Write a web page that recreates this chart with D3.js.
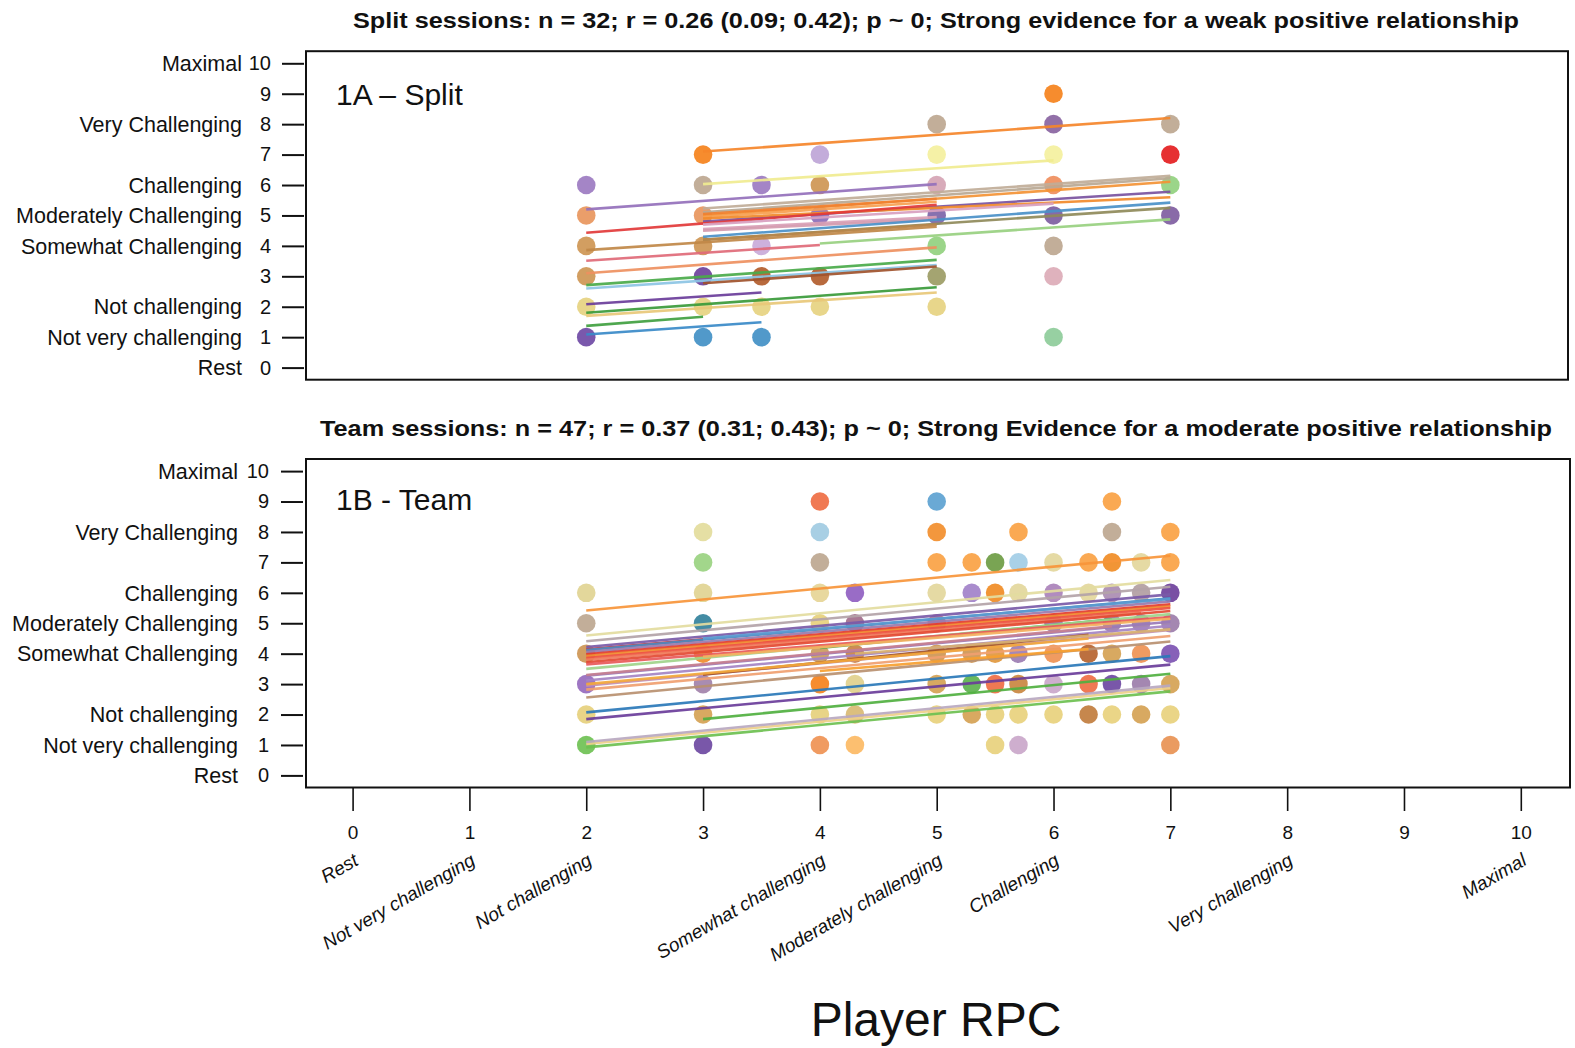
<!DOCTYPE html>
<html><head><meta charset="utf-8">
<script src="https://cdn.jsdelivr.net/npm/d3@7"></script>
<style>
body{margin:0;background:#fff}
svg{display:block}
text{font-family:"Liberation Sans",Arial,Helvetica,sans-serif;fill:#111}
</style>
</head><body>
<svg id="chart" width="1575" height="1048"></svg>
<script>
// ---------- DATA ----------
const tickValues = [0,1,2,3,4,5,6,7,8,9,10];
const yCatValues = [10,8,6,5,4,2,1,0];
const yCatLabels = ["Maximal","Very Challenging","Challenging","Moderately Challenging","Somewhat Challenging","Not challenging","Not very challenging","Rest"];
const xCatValues = [0,1,2,4,5,6,8,10];
const xCatLabels = ["Rest","Not very challenging","Not challenging","Somewhat challenging","Moderately challenging","Challenging","Very challenging","Maximal"];

const splitTitle = "Split sessions: n = 32; r = 0.26 (0.09; 0.42); p ~ 0; Strong evidence for a weak positive relationship";
const teamTitle = "Team sessions: n = 47; r = 0.37 (0.31; 0.43); p ~ 0; Strong Evidence for a moderate positive relationship";
const splitLabel = "1A \u2013 Split";
const teamLabel = "1B - Team";
const xAxisTitle = "Player RPC";

// Split: observed points (coach RPC vs player RPC)
const splitPtX = [2,2,2,2,2,2, 3,3,3,3,3,3,3, 3.5,3.5,3.5,3.5,3.5, 4,4,4,4,4, 5,5,5,5,5,5,5, 6,6,6,6,6,6,6,6, 7,7,7,7];
const splitPtY = [6,5,4,3,2,1, 7,6,5,4,3,2,1, 6,4,3,2,1, 7,6,5,3,2, 8,7,6,5,4,3,2, 9,8,7,6,5,4,3,1, 8,7,6,5];
const splitPtColor = [
 "#9a78c0","#e8935a","#cd9350","#cd9350","#e6d27e","#6b46a3",
 "#f57f17","#bba58e","#e8935a","#cd9350","#6a3d9a","#e6d27e","#3e8ec4",
 "#9a78c0","#c8a8d8","#b05a28","#e6d27e","#3e8ec4",
 "#bca3d6","#cd9350","#8a6ab8","#b05a28","#e6d27e",
 "#bba58e","#f4f09c","#d4a2b2","#7a62a6","#90d07c","#9a9a62","#e6d27e",
 "#f57f17","#86609e","#f4f09c","#ee8c5a","#7a5a9e","#bba58e","#dcaab6","#8ccb98",
 "#bba58e","#e31a1c","#90d07c","#7c5a9e"];

// Split: per-player fitted lines
const splitLnX0 = [3,3,2,3,3,3,3,3,3,3,2,3,3,3,3,3,2,4,2,2,2,2,3,2,2,2,2,2,3];
const splitLnX1 = [7,6,5,7,7,7,5,5,7,7,5,5,5,7,7,5,5,7,4,5,5,5,5,3.5,5,5,3,3.5,6];
const splitLnY0 = [7.1,6.03,5.2,5.23,5.1,5.0,4.95,5.05,4.8,4.9,4.43,4.55,4.5,4.3,4.2,4.2,3.86,4.08,3.51,3.1,2.71,2.6,2.77,2.08,1.8,1.7,1.37,1.09,4.7];
const splitLnY1 = [8.2,6.81,6.03,6.3,6.22,6.11,5.45,5.55,5.78,5.6,5.35,4.95,4.88,5.42,5.25,4.7,4.63,4.87,4.03,3.95,3.54,3.37,3.32,2.47,2.64,2.47,1.67,1.49,5.39];
const splitLnColor = ["#f5862a","#f0ec90","#9470bb","#c0ad98","#b8a894","#f39235","#f7a050","#f08030","#7a52a0","#f28a2a","#e23a3a","#d9a0b6","#d49aae","#4a90c8","#8f8a5a","#b8864a","#c08848","#98d080","#e06a78","#ee9060","#4aaa4a","#8cc4e4","#a0522d","#6a3d9a","#3a9a3a","#e8c878","#40a040","#3a8ac8","#d8a0c0"];

// Team: observed points
const teamPtX = [2,2,2,2,2,2, 3,3,3,3,3,3,3,3, 4,4,4,4,4,4,4,4,4, 4.3,4.3,4.3,4.3,4.3,4.3, 5,5,5,5,5,5,5,5,
 5.3,5.3,5.3,5.3,5.3, 5.5,5.5,5.5,5.5,5.5,5.5, 5.7,5.7,5.7,5.7,5.7,5.7,5.7, 6,6,6,6,6,6,
 6.3,6.3,6.3,6.3,6.3, 6.5,6.5,6.5,6.5,6.5,6.5,6.5,6.5, 6.75,6.75,6.75,6.75,6.75,6.75, 7,7,7,7,7,7,7,7];
const teamPtY = [6,5,4,3,2,1, 8,7,6,5,4,3,2,1, 9,8,7,6,5,4,3,2,1, 6,5,4,3,2,1, 9,8,7,6,5,4,3,2,
 7,6,4,3,2, 7,6,4,3,2,1, 8,7,6,4,3,2,1, 7,6,5,4,3,2,
 7,6,4,3,2, 9,8,7,6,5,4,3,2, 7,6,5,4,3,2, 8,7,6,5,4,3,2,1];
const teamPtColor = [
 "#e0d390","#bba58e","#cd9350","#9467bd","#e5cf7a","#6cc050",
 "#e2db9a","#98d27e","#e0d390","#2f7f9a","#f08a28","#a080a8","#d4a050","#6a45a0",
 "#ee6a40","#9ecae1","#bba58e","#e5d493","#e5cf7a","#c99a5a","#f57f17","#e5cf7a","#ee9050",
 "#8e5cc0","#a06a8a","#c98040","#e0cf8a","#d8b870","#fcb860",
 "#5aa0d0","#f28c28","#f9a040","#e2d69a","#c07a90","#cd9350","#d4a050","#e8d07a",
 "#f9a040","#a080c8","#cd9350","#5ab04a","#d4a050",
 "#6a9a40","#f08a20","#e0963a","#ee6a40","#e8d07a","#e8d07a",
 "#f9a040","#a0cce6","#e2d69a","#9a7ab0","#c8843c","#e8d07a","#c9a5c9",
 "#e2d69a","#a880b8","#9a7aa8","#ee9050","#c9a5c9","#e8d07a",
 "#f9a040","#e2d69a","#b5602a","#ee6a40","#c07a3a",
 "#f9a040","#bba58e","#f08a20","#a88ab0","#9a7aa8","#d4a050","#6a45a0","#e8d07a",
 "#e2d69a","#b09ca0","#9a7aa8","#ee9050","#9a7aa8","#d4a050",
 "#f9a040","#f9a040","#6a3d9a","#9a7aa8","#7a50b0","#d4a050","#e8d07a","#e89050"];

// Team: per-player fitted lines
const teamLnX0 = [2,2,2,2,2,2,2,2,2,2,2,2,4,2,2,2,2,2,2,3,4,2,2,3,2,2,2,3,2,4.3,2,3,2];
const teamLnX1 = [7,7,7,3,7,7,7,7,7,7,6.75,7,6.5,7,7,7,7,7,7,6.3,6.3,7,7,7,7,7,7,7,6.3,7,7,7,6.5];
const teamLnY0 = [5.42,4.6,4.41,4.14,4.22,4.12,4.05,3.98,3.92,3.86,3.8,3.72,4.19,3.5,3.28,3.12,2.95,2.82,2.56,3.31,3.43,2.07,1.85,1.85,1.03,0.92,3.65,3.9,3.0,4.0,1.1,4.5,3.3];
const teamLnY1 = [7.22,6.42,6.2,4.47,5.95,5.82,5.72,5.62,5.56,5.5,5.35,5.4,5.13,5.3,5.05,4.92,4.78,4.58,4.4,4.62,4.15,3.92,3.64,3.34,2.87,2.76,5.2,5.15,4.5,4.8,2.95,5.8,4.9];
const teamLnColor = ["#f7953a","#e3dca0","#b3a3a8","#e0302a","#7a5aa8","#4a8ac0","#9a7aac","#e33b2e","#f08a30","#ee5040","#f07a5a","#e34a33","#4aa84a","#9fd48a","#9a7ab8","#a484c4","#c290b2","#f0a070","#b89070","#a0522d","#f7a030","#2a78b8","#6a3d9a","#50b040","#eed08a","#6cc050","#e85a5a","#f4b060","#f3a83b","#d8b070","#b8a8c0","#5a9ad0","#c78090"];

// ---------- DRAW ----------
const svg = d3.select("#chart");
const x = d3.scaleLinear().domain([0,10]).range([352.6,1520.8]);

function panel(cfg){
  const y = d3.scaleLinear().domain([0,10]).range(cfg.yRange);
  const g = svg.append("g");
  // title
  g.append("text").attr("x",936).attr("y",cfg.titleY)
    .attr("text-anchor","middle").attr("font-weight","bold").attr("font-size",22.5)
    .attr("textLength",cfg.titleLen).attr("lengthAdjust","spacingAndGlyphs")
    .text(cfg.title);
  // points
  g.append("g").selectAll("circle").data(cfg.px.map((d,i)=>i)).join("circle")
    .attr("cx",i=>x(cfg.px[i])).attr("cy",i=>y(cfg.py[i])).attr("r",9.3)
    .attr("fill",i=>cfg.pc[i]).attr("fill-opacity",0.9);
  // lines
  g.append("g").selectAll("line").data(cfg.lx0.map((d,i)=>i)).join("line")
    .attr("x1",i=>x(cfg.lx0[i])).attr("x2",i=>x(cfg.lx1[i]))
    .attr("y1",i=>y(cfg.ly0[i])).attr("y2",i=>y(cfg.ly1[i]))
    .attr("stroke",i=>cfg.lc[i]).attr("stroke-width",2.6).attr("stroke-opacity",0.92);
  // box
  g.append("rect").attr("x",cfg.box[0]).attr("y",cfg.box[1])
    .attr("width",cfg.box[2]-cfg.box[0]).attr("height",cfg.box[3]-cfg.box[1])
    .attr("fill","none").attr("stroke","#111").attr("stroke-width",2);
  // y axis
  const ax = g.append("g").attr("transform",`translate(${cfg.axisX},0)`)
    .call(d3.axisLeft(y).tickValues(tickValues).tickSize(22).tickPadding(cfg.pad).tickFormat(d3.format("d")));
  ax.select(".domain").remove();
  ax.selectAll(".tick line").attr("stroke","#111").attr("stroke-width",2);
  ax.selectAll(".tick text").attr("font-size",20).attr("fill","#222")
    .style("font-family",'"Liberation Sans",Arial,sans-serif');
  // category labels
  g.append("g").selectAll("text").data(yCatValues).join("text")
    .attr("x",cfg.catX).attr("y",d=>y(d)).attr("dy","0.36em")
    .attr("text-anchor","end").attr("font-size",21.5).attr("fill","#222")
    .text((d,i)=>yCatLabels[i]);
  // panel label
  g.append("text").attr("x",336).attr("y",cfg.labelY).attr("font-size",30).attr("fill","#000").text(cfg.label);
}

panel({yRange:[367.6,63.3], box:[306,51.2,1568,379.7], axisX:304, pad:11, catX:242,
  title:splitTitle, titleY:28, titleLen:1166, label:splitLabel, labelY:105,
  px:splitPtX, py:splitPtY, pc:splitPtColor,
  lx0:splitLnX0, lx1:splitLnX1, ly0:splitLnY0, ly1:splitLnY1, lc:splitLnColor});

panel({yRange:[775.4,471.1], box:[306,459,1570,787.5], axisX:303, pad:12, catX:238,
  title:teamTitle, titleY:436, titleLen:1232, label:teamLabel, labelY:510,
  px:teamPtX, py:teamPtY, pc:teamPtColor,
  lx0:teamLnX0, lx1:teamLnX1, ly0:teamLnY0, ly1:teamLnY1, lc:teamLnColor});

// x axis
const xa = svg.append("g").attr("transform","translate(0,788)")
  .call(d3.axisBottom(x).tickValues(tickValues).tickSize(23).tickPadding(15).tickFormat(d3.format("d")));
xa.select(".domain").remove();
xa.selectAll(".tick line").attr("stroke","#111").attr("stroke-width",1.6);
xa.selectAll(".tick text").attr("font-size",19).attr("fill","#222")
  .style("font-family",'"Liberation Sans",Arial,sans-serif');

svg.append("g").selectAll("text").data(xCatValues).join("text")
  .attr("transform",d=>`translate(${x(d)+7},864) rotate(-30)`)
  .attr("text-anchor","end").attr("font-size",19).attr("font-style","italic").attr("fill","#222")
  .text((d,i)=>xCatLabels[i]);

svg.append("text").attr("x",936).attr("y",1036).attr("text-anchor","middle")
  .attr("font-size",48).attr("fill","#000").text(xAxisTitle);
</script>
</body></html>
